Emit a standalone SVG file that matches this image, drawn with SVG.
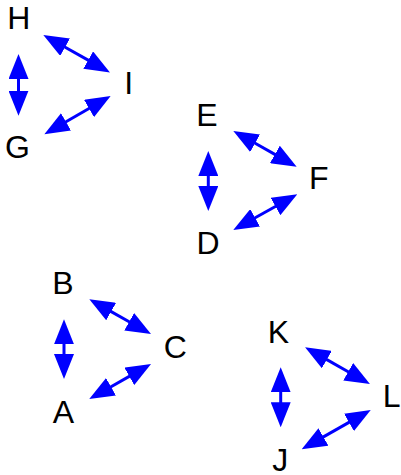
<svg xmlns="http://www.w3.org/2000/svg" width="401" height="475" viewBox="0 0 401 475">
<style>
.lbl{font-family:"Liberation Sans",Arial,sans-serif;font-size:32px;fill:#000;text-anchor:middle}
.edge{stroke:#0000ff;stroke-width:3;fill:none;marker-start:url(#head);marker-end:url(#head)}
</style>
<defs>
<marker id="head" viewBox="0 0 25 20" refX="3" refY="10" markerWidth="25" markerHeight="20" markerUnits="userSpaceOnUse" orient="auto-start-reverse">
<path d="M0,0 L25,10 L0,20 z" fill="#0000ff"/>
</marker>
</defs>
<rect width="401" height="475" fill="#fff"/>
<g id="connectors">
<line class="edge" x1="62.5" y1="45.7" x2="90.8" y2="61.6"/>
<line class="edge" x1="91.6" y1="107.0" x2="63.4" y2="123.3"/>
<line class="edge" x1="18.5" y1="76" x2="18.5" y2="93.7"/>
<line class="edge" x1="252.5" y1="141.8" x2="277.5" y2="155.9"/>
<line class="edge" x1="278.1" y1="205.0" x2="252.5" y2="219.3"/>
<line class="edge" x1="208.3" y1="173" x2="208.3" y2="189"/>
<line class="edge" x1="108.5" y1="310.1" x2="131.8" y2="323.2"/>
<line class="edge" x1="131.9" y1="374.9" x2="108.4" y2="388.2"/>
<line class="edge" x1="64" y1="341.3" x2="64" y2="357"/>
<line class="edge" x1="324.2" y1="358.1" x2="350.8" y2="373.2"/>
<line class="edge" x1="351.6" y1="420.9" x2="320.8" y2="438.4"/>
<line class="edge" x1="280.7" y1="389.3" x2="280.7" y2="405.3"/>
</g>
<g id="node-H"><text class="lbl" x="18.8" y="29.3">H</text></g>
<g id="node-I"><text class="lbl" x="128.8" y="93.7">I</text></g>
<g id="node-G"><text class="lbl" x="17.5" y="157.5">G</text></g>
<g id="node-E"><text class="lbl" x="207" y="126">E</text></g>
<g id="node-F"><text class="lbl" x="318.8" y="189.3">F</text></g>
<g id="node-D"><text class="lbl" x="208" y="254">D</text></g>
<g id="node-B"><text class="lbl" x="62.9" y="294.3">B</text></g>
<g id="node-C"><text class="lbl" x="175.4" y="357.8">C</text></g>
<g id="node-A"><text class="lbl" x="63.3" y="423.3">A</text></g>
<g id="node-K"><text class="lbl" x="278.5" y="343.3">K</text></g>
<g id="node-L"><text class="lbl" x="391.6" y="406.7">L</text></g>
<g id="node-J"><text class="lbl" x="280.3" y="470.5">J</text></g>
</svg>
